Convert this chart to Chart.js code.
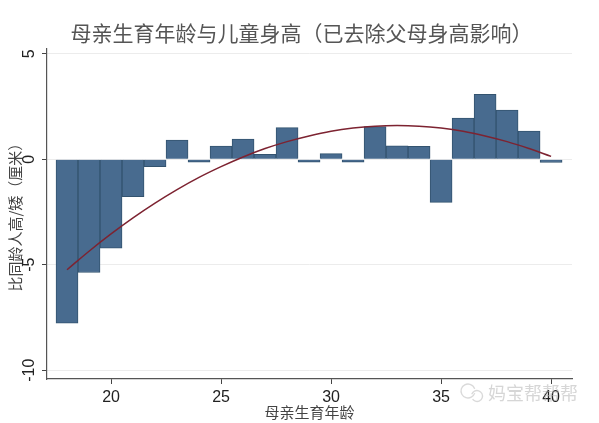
<!DOCTYPE html>
<html>
<head>
<meta charset="utf-8">
<script src="https://cdn.jsdelivr.net/npm/chart.js@4.4.1/dist/chart.umd.min.js"></script>
<style>
  html, body { margin: 0; padding: 0; background: #fff; }
  #wrap { width: 599px; height: 423px; }
</style>
</head>
<body>
<div id="wrap"><canvas id="chart" width="599" height="423"></canvas></div>
<script>
// mother's age at birth (bar centres)
const ages = [18, 19, 20, 21, 22, 23, 24, 25, 26, 27, 28, 29, 30, 31, 32, 33, 34, 35, 36, 37, 38, 39, 40];
// height difference vs. peers (cm)
const heightDiff = [-7.77, -5.37, -4.22, -1.77, -0.35, 0.91, -0.14, 0.63, 0.96, 0.24, 1.5, -0.13,
  0.27, -0.13, 1.55, 0.64, 0.62, -2.04, 1.96, 3.08, 2.34, 1.34, -0.15];
// fitted curve at each age
const fitValues = [-5.24, -4.36, -3.54, -2.78, -2.08, -1.44, -0.86, -0.35, 0.11, 0.51, 0.84, 1.11,
  1.33, 1.48, 1.57, 1.6, 1.57, 1.48, 1.33, 1.11, 0.84, 0.51, 0.14];
const xTicks = [20, 25, 30, 35, 40];
const yTicks = [-10, -5, 0, 5];

const titleText = "母亲生育年龄与儿童身高（已去除父母身高影响）";
const xTitle = "母亲生育年龄";
const yTitle = "比同龄人高/矮（厘米）";
const watermark = "妈宝帮帮帮";

const cjk = '"Noto Sans CJK SC", sans-serif';
const latin = '"Liberation Sans", Arial, sans-serif';

const yLabels = {
  id: "yLabels",
  afterDraw(chart) {
    const { ctx } = chart;
    const y = chart.scales.y;
    ctx.save();
    ctx.fillStyle = "#222";
    ctx.font = "16px " + latin;
    ctx.textAlign = "center";
    ctx.textBaseline = "middle";
    yTicks.forEach((v) => {
      ctx.save();
      ctx.translate(30, y.getPixelForValue(v));
      ctx.rotate(-Math.PI / 2);
      ctx.fillText(String(v), 0, 0);
      ctx.restore();
    });
    ctx.restore();
  },
};

const mark = {
  id: "mark",
  afterDraw(chart) {
    const { ctx } = chart;
    ctx.save();
    ctx.globalAlpha = 0.55;
    ctx.strokeStyle = "#b9b9b9";
    ctx.lineWidth = 1.3;
    ctx.beginPath();
    ctx.arc(468, 391, 7, 0.3, Math.PI * 1.9);
    ctx.stroke();
    ctx.beginPath();
    ctx.arc(477, 396, 5.5, Math.PI * 1.1, Math.PI * 2.8);
    ctx.stroke();
    ctx.fillStyle = "#b5b5b5";
    ctx.font = "18px " + cjk;
    ctx.textAlign = "left";
    ctx.textBaseline = "middle";
    ctx.fillText(watermark, 488, 393);
    ctx.restore();
  },
};

new Chart(document.getElementById("chart"), {
  type: "bar",
  data: {
    datasets: [
      {
        type: "line",
        data: ages.map((a, i) => ({ x: a, y: fitValues[i] })),
        borderColor: "#7d2331",
        borderWidth: 1.5,
        pointRadius: 0,
        tension: 0.4,
        fill: false,
        order: 0,
      },
      {
        type: "bar",
        data: ages.map((a, i) => ({ x: a, y: heightDiff[i] })),
        backgroundColor: "#486b8f",
        borderColor: "#33536f",
        borderWidth: 1,
        barPercentage: 1,
        categoryPercentage: 1,
        order: 1,
      },
    ],
  },
  options: {
    responsive: false,
    animation: false,
    layout: { padding: { left: 4, right: 0 } },
    plugins: {
      legend: { display: false },
      tooltip: { enabled: false },
      title: {
        display: true,
        text: titleText,
        color: "#555",
        font: { family: cjk, size: 21, weight: "normal" },
        padding: { top: 20, bottom: 3 },
      },
    },
    scales: {
      x: {
        type: "linear",
        offset: false,
        min: 17.09,
        max: 40.95,
        afterBuildTicks: (s) => { s.ticks = xTicks.map((v) => ({ value: v })); },
        afterFit: (s) => { s.height = 44; },
        grid: { offset: false, drawOnChartArea: false, tickLength: 5, tickColor: "#444", tickWidth: 1 },
        border: { color: "#555", width: 1.2 },
        ticks: { color: "#222", font: { family: latin, size: 16 }, padding: 4, maxRotation: 0 },
        title: {
          display: true,
          text: xTitle,
          color: "#444",
          font: { family: cjk, size: 15 },
          padding: { top: 0, bottom: 2 },
        },
      },
      y: {
        min: -10.42,
        max: 5.27,
        afterBuildTicks: (s) => { s.ticks = yTicks.map((v) => ({ value: v })); },
        afterFit: (s) => { s.width = 43; },
        grid: { color: "#ececec", tickLength: 5, tickColor: "#444", tickWidth: 1 },
        border: { color: "#555", width: 1.2 },
        ticks: { display: false },
        title: {
          display: true,
          text: yTitle,
          color: "#444",
          font: { family: cjk, size: 15 },
          padding: { top: 2, bottom: 0 },
        },
      },
      // empty right-hand strip that keeps the plot clear of the canvas edge
      yRight: {
        position: "right",
        afterFit: (s) => { s.width = 27; },
        grid: { display: false },
        ticks: { display: false },
        border: { display: false },
      },
    },
  },
  plugins: [yLabels, mark],
});
</script>
</body>
</html>
